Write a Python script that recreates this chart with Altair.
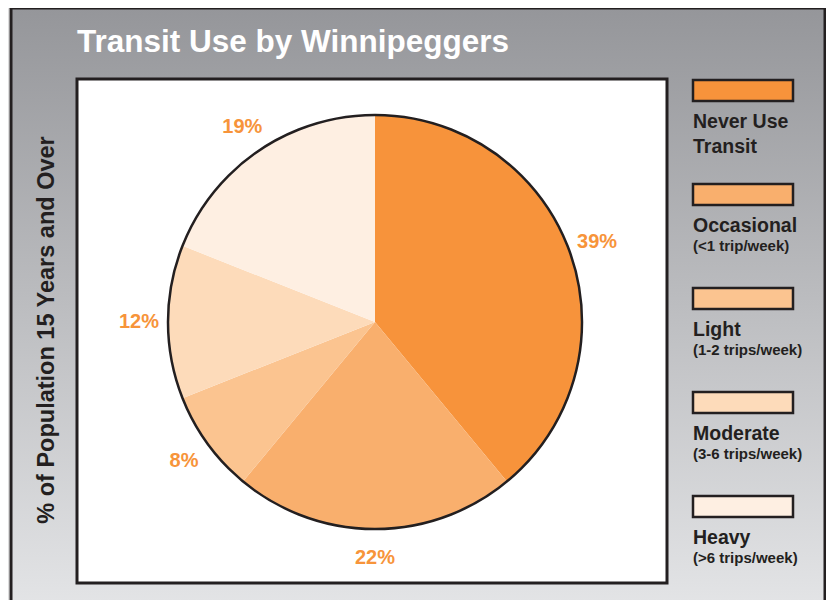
import altair as alt
import pandas as pd

# ---- data ----
categories = ["Never Use Transit", "Occasional", "Light", "Moderate", "Heavy"]
shares = [39, 22, 8, 12, 19]
colors = ["#F7933B", "#F9AF6D", "#FBC490", "#FDDBBA", "#FEEFE2"]
legend_line1 = ["Never Use", "Occasional", "Light", "Moderate", "Heavy"]
legend_line2 = ["Transit", "(<1 trip/week)", "(1-2 trips/week)", "(3-6 trips/week)", "(>6 trips/week)"]
title_text = "Transit Use by Winnipeggers"
ytitle_text = "% of Population 15 Years and Over"

df = pd.DataFrame({
    "cat": categories,
    "share": shares,
    "i": list(range(len(categories))),
    "label": [f"{v}%" for v in shares],
    "line1": legend_line1,
    "line2": legend_line2,
    "second_bold": [True, False, False, False, False],
})

W, H = 818, 592
FONT = "Liberation Sans, Arial, Helvetica, sans-serif"
DARK = "#231F20"
ORANGE = "#F7943A"
CX, CY, R = 367, 314, 207

one = pd.DataFrame({"a": [0]})

bg = alt.Chart(one).mark_rect(
    color=alt.Gradient(
        gradient="linear",
        stops=[alt.GradientStop(color="#95969A", offset=0),
               alt.GradientStop(color="#E4E5E7", offset=1)],
        x1=0, x2=0, y1=0, y2=1),
    stroke=DARK, strokeWidth=3,
).encode(x=alt.value(3), x2=alt.value(817), y=alt.value(0), y2=alt.value(604))

box = alt.Chart(one).mark_rect(fill="white", stroke=DARK, strokeWidth=3).encode(
    x=alt.value(69), x2=alt.value(659), y=alt.value(71), y2=alt.value(575))

title = alt.Chart(one).mark_text(
    text=title_text, align="left", baseline="alphabetic", font=FONT,
    fontSize=31.5, fontWeight="bold", color="white",
).encode(x=alt.value(69), y=alt.value(44))

ytitle = alt.Chart(one).mark_text(
    text=ytitle_text, angle=270, align="center", baseline="middle", font=FONT,
    fontSize=23.5, fontWeight="bold", color=DARK,
).encode(x=alt.value(39), y=alt.value(322))

pie = alt.Chart(df).mark_arc(radius=R).encode(
    theta=alt.Theta("share:Q", stack=True),
    order=alt.Order("i:Q"),
    color=alt.Color("cat:N", scale=alt.Scale(domain=categories, range=colors), legend=None),
    x=alt.value(CX), y=alt.value(CY),
)

outline = alt.Chart(one).mark_arc(
    radius=R, theta=0, theta2=6.2832, filled=False, stroke=DARK, strokeWidth=2.5,
).encode(x=alt.value(CX), y=alt.value(CY))

labels = alt.Chart(df).mark_text(
    radius=236, font=FONT, fontSize=20, fontWeight="bold", color=ORANGE,
    align="center", baseline="middle",
).encode(
    theta=alt.Theta("share:Q", stack=True),
    order=alt.Order("i:Q"),
    text="label:N",
    x=alt.value(CX), y=alt.value(CY),
)

leg_base = alt.Chart(df).transform_calculate(top="72 + datum.i * 104")

leg_rect = leg_base.mark_rect(stroke=DARK, strokeWidth=2.5).encode(
    x=alt.value(685), x2=alt.value(785),
    y=alt.Y("top:Q", scale=None), y2=alt.Y2("bot:Q"),
    color=alt.Color("cat:N", scale=alt.Scale(domain=categories, range=colors), legend=None),
).transform_calculate(bot="datum.top + 21")

leg_t1 = leg_base.transform_calculate(ty="datum.top + 48").mark_text(
    align="left", baseline="alphabetic", font=FONT, fontSize=19.5, fontWeight="bold", color=DARK,
).encode(x=alt.value(685), y=alt.Y("ty:Q", scale=None), text="line1:N")

leg_t2a = leg_base.transform_filter("datum.second_bold").transform_calculate(ty="datum.top + 73").mark_text(
    align="left", baseline="alphabetic", font=FONT, fontSize=19.5, fontWeight="bold", color=DARK,
).encode(x=alt.value(685), y=alt.Y("ty:Q", scale=None), text="line2:N")

leg_t2b = leg_base.transform_filter("!datum.second_bold").transform_calculate(ty="datum.top + 67").mark_text(
    align="left", baseline="alphabetic", font=FONT, fontSize=15, fontWeight="bold", color=DARK,
).encode(x=alt.value(685), y=alt.Y("ty:Q", scale=None), text="line2:N")

chart = alt.layer(
    bg, box, title, ytitle, pie, outline, labels, leg_rect, leg_t1, leg_t2a, leg_t2b
).resolve_scale(color="shared").properties(
    width=W, height=H, padding=0, autosize=alt.AutoSizeParams(type="none"),
).configure_view(stroke=None).configure(background="white")

chart.save("out.html", embed_options={"renderer": "svg", "actions": False})
